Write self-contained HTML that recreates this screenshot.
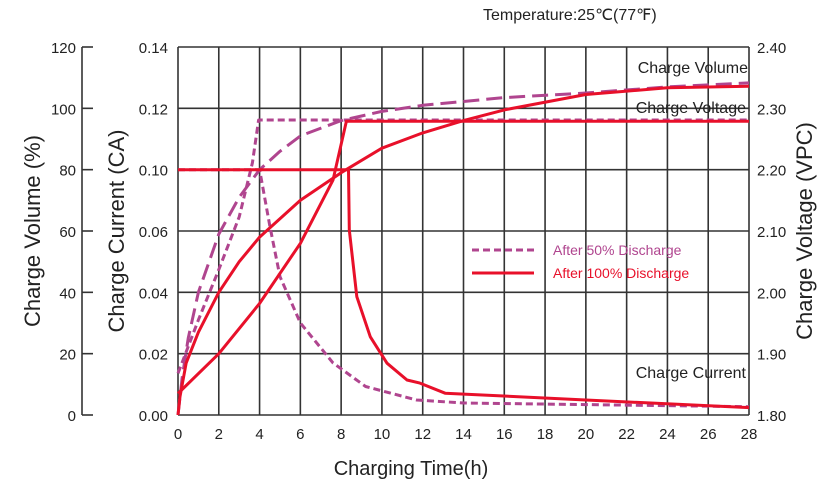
<!DOCTYPE html>
<html><head><meta charset="utf-8"><style>
html,body{margin:0;padding:0;background:#fff;}
svg{display:block;font-family:"Liberation Sans",sans-serif;}
</style></head><body>
<svg id="chart" width="826" height="488" viewBox="0 0 826 488" xmlns="http://www.w3.org/2000/svg">
<text x="483" y="20" font-size="16" fill="#222">Temperature:25℃(77℉)</text>
<g id="grid"></g>
<g id="ticks"></g>
<g id="series"></g>
<text transform="translate(40,231) rotate(-90)" text-anchor="middle" font-size="22" fill="#222">Charge  Volume (%)</text>
<text transform="translate(124,231) rotate(-90)" text-anchor="middle" font-size="22" fill="#222">Charge  Current (CA)</text>
<text transform="translate(812,231) rotate(-90)" text-anchor="middle" font-size="22" fill="#222">Charge Voltage (VPC)</text>
<text x="411" y="475" text-anchor="middle" font-size="20" fill="#222">Charging Time(h)</text>
<text x="748" y="73" text-anchor="end" font-size="16" fill="#222">Charge Volume</text>
<text x="746" y="113" text-anchor="end" font-size="16" fill="#222">Charge Voltage</text>
<text x="746" y="378" text-anchor="end" font-size="16" fill="#222">Charge Current</text>
<g>
<line x1="472" y1="250" x2="534" y2="250" stroke="#b0458f" stroke-width="3" stroke-dasharray="7,4"/>
<text x="553" y="255" font-size="14" fill="#b0458f">After 50% Discharge</text>
<line x1="472" y1="273" x2="534" y2="273" stroke="#e8102a" stroke-width="3"/>
<text x="553" y="278" font-size="14" fill="#e8102a">After 100% Discharge</text>
</g>
</svg>
<script>
const xTicks=[0,2,4,6,8,10,12,14,16,18,20,22,24,26,28];
const currentTicks=["0.00","0.02","0.04","0.06","0.10","0.12","0.14"];
const volumeTicks=[0,20,40,60,80,100,120];
const voltageTicks=["1.80","1.90","2.00","2.10","2.20","2.30","2.40"];

const cur50H=[0,4,4.5,5,6,7.6,9.2,11.7,14,20,28];
const cur50V=[0.10,0.10,0.0634,0.0451,0.030,0.017,0.0093,0.0049,0.0039,0.0034,0.0027];
const volt50H=[0,1,2,3,3.65,3.95,28];
const volt50V=[1.868,1.955,2.037,2.123,2.211,2.281,2.281];
const vol50H=[0,0.2,0.5,1,2,3,4,5,6,8,10,12,16,20,24,28];
const vol50V=[0,12,25,40,59,71,80,86,91,96,99,101,103.5,105,107,108.3];

const cur100H=[0,8.36,8.4,8.77,9.43,10.25,11.23,11.86,13.1,20,28];
const cur100V=[0.10,0.10,0.0607,0.0386,0.0255,0.0169,0.0114,0.0104,0.0071,0.0049,0.0024];
const volt100H=[0,2,4,6,7.6,8.26,28];
const volt100V=[1.835,1.9,1.982,2.08,2.183,2.279,2.279];
const vol100H=[0,0.1,0.4,1,2,3,4,6,8,10,12,14,16,20,24,28];
const vol100V=[0,6,17,27,40,50,58,70,79,87,92,96,99.5,104.5,106.7,107.2];

const L=178,R=749,T=47,B=415;
const STEP=(B-T)/6;
const NS="http://www.w3.org/2000/svg";
const xs=h=>L+(R-L)*h/28;
function yCur(v){
  let k;
  if(v<=0.06)k=v/0.02;
  else if(v<=0.10)k=3+(v-0.06)/0.04;
  else k=4+(v-0.10)/0.02;
  return B-k*STEP;
}
const yVol=v=>B-(B-T)*v/120;
const yVolt=v=>B-(B-T)*(v-1.8)/0.6;
function mk(tag,attrs,parent){const e=document.createElementNS(NS,tag);for(const k in attrs)e.setAttribute(k,attrs[k]);parent.appendChild(e);return e;}
const grid=document.getElementById('grid'),ticks=document.getElementById('ticks'),series=document.getElementById('series');
xTicks.forEach(h=>{
  const l=mk('line',{x1:xs(h),x2:xs(h),y1:T,y2:B,stroke:'#333','stroke-width':1.6},grid);
  
  
  const t=mk('text',{x:xs(h),y:439,'text-anchor':'middle','font-size':15,fill:'#222'},ticks);
  t.textContent=h;
  
  
});
currentTicks.forEach(s=>{
  const v=parseFloat(s);
  const l=mk('line',{x1:L,x2:R,y1:yCur(v),y2:yCur(v),stroke:'#333','stroke-width':1.6},grid);
  
  
  const t=mk('text',{x:168,y:yCur(v)+6,'text-anchor':'end','font-size':15,fill:'#222'},ticks);
  t.textContent=s;
  
  
});
const sp=mk('line',{x1:82,x2:82,y1:yVol(120),y2:yVol(0),stroke:'#333','stroke-width':1.6},grid);


volumeTicks.forEach(v=>{
  const l=mk('line',{x1:82,x2:93,y1:yVol(v),y2:yVol(v),stroke:'#333','stroke-width':1.6},grid);
  
  
  const t=mk('text',{x:76,y:yVol(v)+6,'text-anchor':'end','font-size':15,fill:'#222'},ticks);
  t.textContent=v;
  
  
});
voltageTicks.forEach(s=>{
  const v=parseFloat(s);
  const t=mk('text',{x:757,y:yVolt(v)+6,'text-anchor':'start','font-size':15,fill:'#222'},ticks);
  t.textContent=s;
  
  
});
function path(H,V,yf,color,dash,name){
  const d=H.map((h,i)=>(i?'L':'M')+xs(h).toFixed(1)+','+yf(V[i]).toFixed(1)).join(' ');
  const p=mk('path',{d:d,fill:'none',stroke:color,'stroke-width':3,'stroke-linejoin':'round'},series);
  if(dash)p.setAttribute('stroke-dasharray',dash);
  
  
}
const P='#b0458f',RD='#e8102a';
path(vol50H,vol50V,yVol,P,'16,7','volume-50-line');
path(volt50H,volt50V,yVolt,P,'7,4','voltage-50-line');
path(cur50H,cur50V,yCur,P,'7,4','current-50-line');
path(vol100H,vol100V,yVol,RD,null,'volume-100-line');
path(volt100H,volt100V,yVolt,RD,null,'voltage-100-line');
path(cur100H,cur100V,yCur,RD,null,'current-100-line');
</script>
</body></html>
